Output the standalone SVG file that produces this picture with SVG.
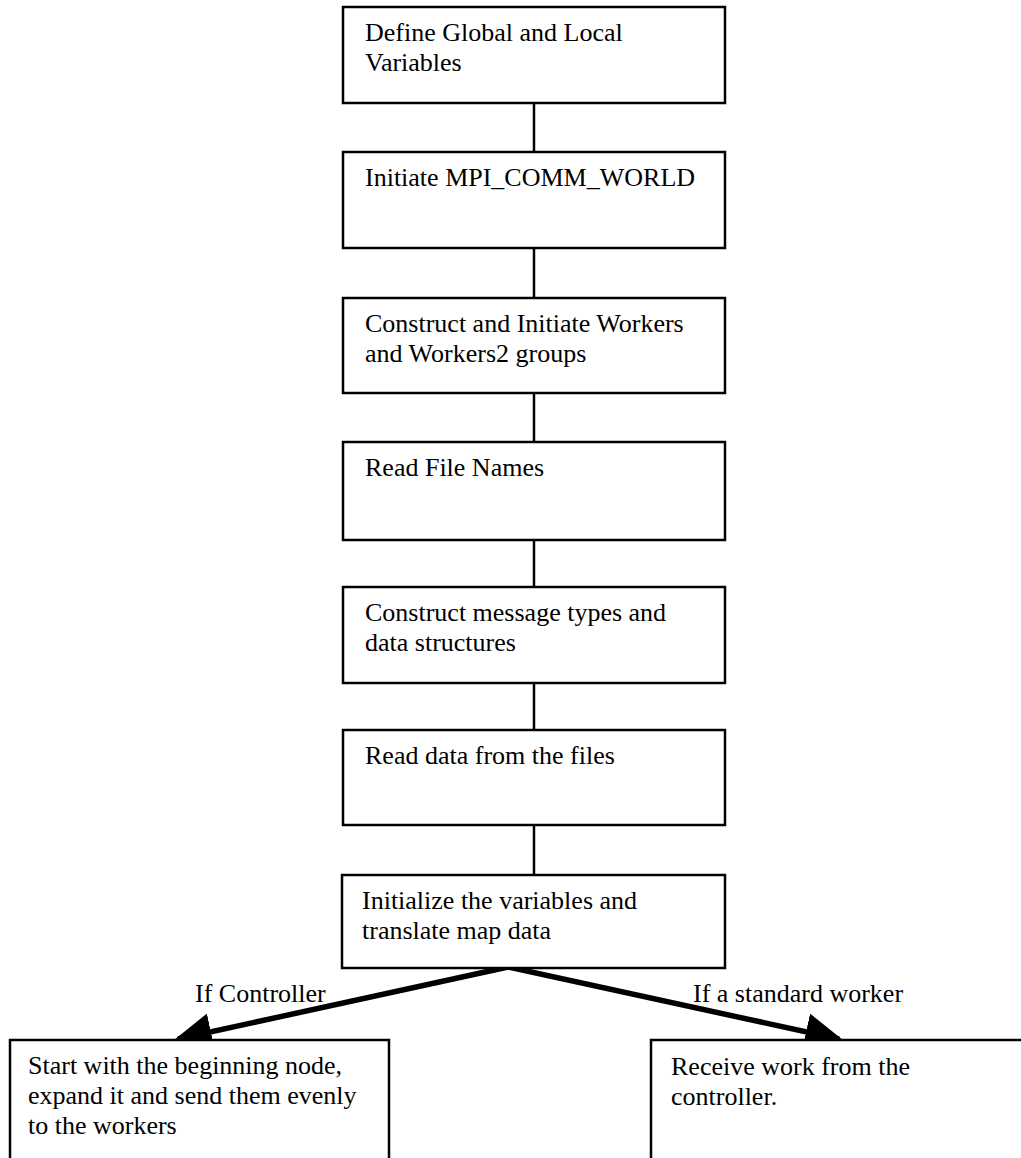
<svg xmlns="http://www.w3.org/2000/svg" width="1021" height="1158" viewBox="0 0 1021 1158">
  <style>
    .box { fill: #fff; stroke: #000; stroke-width: 2.5; }
    .link { stroke: #000; stroke-width: 2.5; fill: none; }
    .branch { stroke: #000; stroke-width: 5.5; fill: none; }
    text { font-family: "Liberation Serif", "Times New Roman", serif; font-size: 26px; fill: #000; }
  </style>
  <defs>
    <marker id="head" viewBox="0 0 10 10" refX="9" refY="5" markerWidth="6.8" markerHeight="6.8" markerUnits="strokeWidth" orient="auto">
      <path d="M0,0 L10,5 L0,10 Z" fill="#000"/>
    </marker>
  </defs>
  <rect width="1021" height="1158" fill="#fff"/>

  <!-- connectors -->
  <g id="connectors">
    <line class="link" x1="534" y1="103" x2="534" y2="152"/>
    <line class="link" x1="534" y1="248" x2="534" y2="298"/>
    <line class="link" x1="534" y1="393" x2="534" y2="442"/>
    <line class="link" x1="534" y1="540" x2="534" y2="587"/>
    <line class="link" x1="534" y1="683" x2="534" y2="730"/>
    <line class="link" x1="534" y1="825" x2="534" y2="875"/>
    <line class="branch" x1="508" y1="967" x2="178" y2="1039" marker-end="url(#head)"/>
    <line class="branch" x1="508" y1="967" x2="839" y2="1039" marker-end="url(#head)"/>
    <text x="195" y="1002">If Controller</text>
    <text x="693" y="1002">If a standard worker</text>
  </g>

  <g id="define-vars">
    <rect class="box" x="343" y="7" width="382" height="96"/>
    <text x="365" y="41">Define Global and Local</text>
    <text x="365" y="71">Variables</text>
  </g>
  <g id="init-mpi">
    <rect class="box" x="343" y="152" width="382" height="96"/>
    <text x="365" y="186">Initiate MPI_COMM_WORLD</text>
  </g>
  <g id="workers-groups">
    <rect class="box" x="343" y="298" width="382" height="95"/>
    <text x="365" y="332">Construct and Initiate Workers</text>
    <text x="365" y="362">and Workers2 groups</text>
  </g>
  <g id="read-names">
    <rect class="box" x="343" y="442" width="382" height="98"/>
    <text x="365" y="476">Read File Names</text>
  </g>
  <g id="message-types">
    <rect class="box" x="343" y="587" width="382" height="96"/>
    <text x="365" y="621">Construct message types and</text>
    <text x="365" y="651">data structures</text>
  </g>
  <g id="read-data">
    <rect class="box" x="343" y="730" width="382" height="95"/>
    <text x="365" y="764">Read data from the files</text>
  </g>
  <g id="initialize">
    <rect class="box" x="342" y="875" width="383" height="93"/>
    <text x="362" y="909">Initialize the variables and</text>
    <text x="362" y="939">translate map data</text>
  </g>
  <g id="controller">
    <rect class="box" x="10" y="1040" width="379" height="140"/>
    <text x="28" y="1074">Start with the beginning node,</text>
    <text x="28" y="1104">expand it and send them evenly</text>
    <text x="28" y="1134">to the workers</text>
  </g>
  <g id="worker">
    <rect class="box" x="651" y="1040" width="400" height="140"/>
    <text x="671" y="1075">Receive work from the</text>
    <text x="671" y="1105">controller.</text>
  </g>
</svg>
